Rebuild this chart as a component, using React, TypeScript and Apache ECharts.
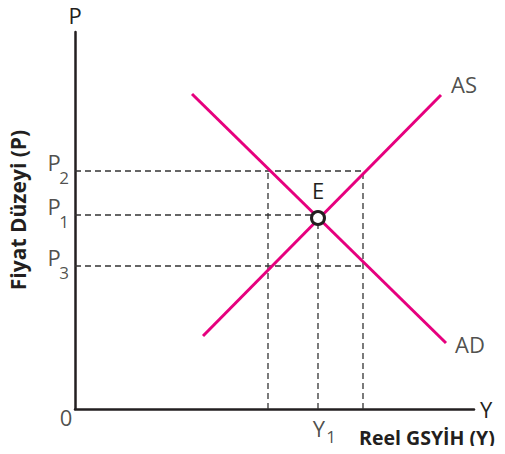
import React, { useEffect, useRef } from "react";
import * as echarts from "echarts";

// Axis extents (value units)
const X_MAX = 399;
const Y_MAX = 377;

// Curves
const asCurve: number[][] = [[128, 73], [366, 314]];
const adCurve: number[][] = [[117, 315], [371, 66]];
const equilibrium: number[] = [243, 191];

// Price levels (P2, P1, P3) and how far their guide lines run
const priceLevels = [238, 194, 143];
const priceSubscripts = ["2", "1", "3"];
const priceLineEnds = [288, 243, 288];

// Output levels and how high their guide lines run
const outputLevels = [193, 243, 288];
const outputLineTops = [238, 191, 238];
const outputLabels = ["", "Y", ""];
const outputSubscripts = ["", "1", ""];

const MAGENTA = "#E6007E";
const INK = "#231F20";
const FONT = "'Open Sans', 'Noto Sans', sans-serif";
const MAIN_SIZE = 22;
const SUB_SIZE = 17;

export default function App() {
  const ref = useRef<HTMLDivElement>(null);

  useEffect(() => {
    if (!ref.current) return;
    const chart = echarts.init(ref.current, undefined, { renderer: "svg" });

    const dashed = (data: number[][], id: string) => ({
      type: "line",
      id,
      data,
      showSymbol: false,
      symbol: "none",
      silent: true,
      z: 1,
      lineStyle: { color: "#333333", width: 1.3, type: [6, 4] },
    });

    const guideSeries: any[] = [];
    priceLevels.forEach((p, i) => {
      guideSeries.push(dashed([[0, p], [priceLineEnds[i], p]], "ph" + i));
    });
    outputLevels.forEach((x, i) => {
      guideSeries.push(dashed([[x, 0], [x, outputLineTops[i]]], "yv" + i));
    });

    const labelSeries = (
      id: string,
      data: any[],
      fontSize: number,
      fontWeight: string = "normal"
    ) => ({
      type: "scatter",
      id,
      data,
      symbolSize: 1,
      silent: true,
      z: 5,
      itemStyle: { color: "transparent" },
      label: {
        show: true,
        position: "inside",
        color: INK,
        fontFamily: FONT,
        fontSize,
        fontWeight,
        textBorderWidth: 0,
        formatter: (p: any) => p.data.text,
      },
    });

    const priceMain = priceLevels.map((p) => ({
      value: [0, p],
      text: "P",
      label: { offset: [-21, -9] },
    }));
    const priceSub = priceLevels.map((p, i) => ({
      value: [0, p],
      text: priceSubscripts[i],
      label: { offset: [-11, 6] },
    }));
    const outMain = outputLevels
      .map((x, i) => ({ value: [x, 0], text: outputLabels[i], label: { offset: [1, 19] } }))
      .filter((d) => d.text);
    const outSub = outputLevels
      .map((x, i) => ({ value: [x, 0], text: outputSubscripts[i], label: { offset: [13, 27] } }))
      .filter((d) => d.text);
    const curveNames = [
      { value: asCurve[asCurve.length - 1], text: "AS", label: { offset: [23, -11] } },
      { value: adCurve[adCurve.length - 1], text: "AD", label: { offset: [24, 1] } },
      { value: [0, 0], text: "0", label: { offset: [-9, 8] } },
    ];

    chart.setOption({
      animation: false,
      grid: { left: 75, top: 32, width: X_MAX, height: Y_MAX },
      xAxis: {
        type: "value",
        min: 0,
        max: X_MAX,
        name: "Y",
        nameLocation: "end",
        nameGap: 6,
        nameTextStyle: { color: INK, fontFamily: FONT, fontSize: MAIN_SIZE, padding: [0, 0, 8, 0] },
        axisLine: { show: true, lineStyle: { color: INK, width: 2.5 } },
        axisTick: { show: false },
        axisLabel: { show: false },
        splitLine: { show: false },
      },
      yAxis: {
        type: "value",
        min: 0,
        max: Y_MAX,
        name: "P",
        nameLocation: "end",
        nameGap: 6,
        nameTextStyle: { color: INK, fontFamily: FONT, fontSize: MAIN_SIZE, align: "center" },
        axisLine: { show: true, lineStyle: { color: INK, width: 2.5 } },
        axisTick: { show: false },
        axisLabel: { show: false },
        splitLine: { show: false },
      },
      graphic: [
        {
          type: "text",
          x: 18,
          y: 210,
          rotation: Math.PI / 2,
          style: {
            text: "Fiyat Düzeyi (P)",
            fill: INK,
            font: `bold 21px ${FONT}`,
            align: "center",
            verticalAlign: "middle",
          },
        },
        {
          type: "text",
          x: 427,
          y: 437,
          style: {
            text: "Reel GSYİH (Y)",
            fill: INK,
            font: `bold 19.5px ${FONT}`,
            align: "center",
            verticalAlign: "middle",
          },
        },
      ],
      series: [
        ...guideSeries,
        {
          type: "line",
          id: "AS",
          name: "AS",
          data: asCurve,
          showSymbol: false,
          symbol: "none",
          z: 3,
          lineStyle: { color: MAGENTA, width: 3 },
        },
        {
          type: "line",
          id: "AD",
          name: "AD",
          data: adCurve,
          showSymbol: false,
          symbol: "none",
          z: 3,
          lineStyle: { color: MAGENTA, width: 3 },
        },
        {
          type: "scatter",
          id: "E",
          data: [{ value: equilibrium, text: "E" }],
          symbol: "circle",
          symbolSize: 13,
          z: 4,
          itemStyle: { color: "#ffffff", borderColor: INK, borderWidth: 3, opacity: 1 },
          label: {
            show: true,
            position: "inside",
            offset: [0, -28],
            color: INK,
            fontFamily: FONT,
            fontSize: MAIN_SIZE,
            textBorderWidth: 0,
            formatter: (p: any) => p.data.text,
          },
        },
        labelSeries("priceMain", priceMain, MAIN_SIZE),
        labelSeries("priceSub", priceSub, SUB_SIZE),
        labelSeries("outMain", outMain, MAIN_SIZE),
        labelSeries("outSub", outSub, SUB_SIZE),
        labelSeries("curveNames", curveNames, MAIN_SIZE),
      ],
    });

    return () => chart.dispose();
  }, []);

  return <div ref={ref} style={{ width: 505, height: 454, margin: -8 }} />;
}
